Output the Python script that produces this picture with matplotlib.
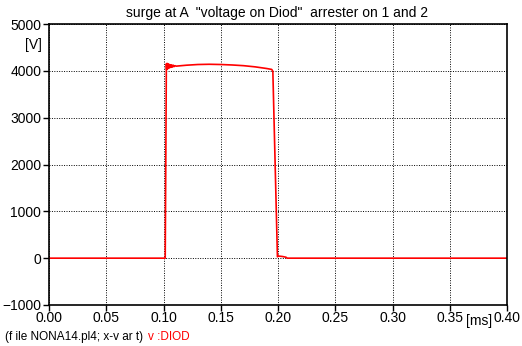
import matplotlib
matplotlib.use("Agg")
import matplotlib.pyplot as plt

plt.rcParams['font.family'] = ['Liberation Sans', 'DejaVu Sans']

# Time in ms and voltage at node DIOD in V
t_ms = [0.0, 0.1015, 0.1025, 0.1028, 0.1031, 0.1034, 0.1037, 0.1040, 0.1044,
        0.1048, 0.1052, 0.1056, 0.1061, 0.1066, 0.1072, 0.1078, 0.1085,
        0.1092, 0.110, 0.111, 0.12, 0.13, 0.14, 0.15, 0.16, 0.17, 0.18,
        0.19, 0.1945, 0.1955, 0.1995, 0.2005, 0.204, 0.207, 0.208, 0.40]
v_diod = [0, 0, 4150, 4030, 4160, 4040, 4150, 4050, 4140, 4060, 4135, 4070,
          4130, 4075, 4125, 4080, 4120, 4090, 4110, 4100, 4120, 4135, 4140,
          4135, 4125, 4110, 4085, 4050, 4030, 3990, 30, 45, 35, 20, 0, 0]

x_ticks = [0.00, 0.05, 0.10, 0.15, 0.20, 0.25, 0.30, 0.35, 0.40]
x_labels = ["0.00", "0.05", "0.10", "0.15", "0.20", "0.25", "0.30", "0.35", "0.40"]
y_ticks = [-1000, 0, 1000, 2000, 3000, 4000, 5000]

title = 'surge at A  "voltage on Diod"  arrester on 1 and 2'

fig = plt.figure(figsize=(5.22, 3.46), dpi=100)
ax = fig.add_axes([49/522, 1 - 305/346, (507 - 49)/522, (305 - 24)/346])

ax.plot(t_ms, v_diod, color="#ff0000", lw=1.2)

ax.set_xlim(0, 0.4)
ax.set_ylim(-1000, 5000)
ax.set_xticks(x_ticks)
ax.set_xticklabels(x_labels)
ax.set_yticks(y_ticks)
ax.tick_params(direction="out", length=4, width=1, labelsize=10,
               colors="black")
ax.tick_params(axis="x", pad=0)
ax.tick_params(axis="y", pad=1.5)
ax.grid(True, color="black", linestyle=(0, (1, 1.5)), linewidth=0.7)
for s in ax.spines.values():
    s.set_linewidth(1.2)
    s.set_color("black")

fig.text(277/522, 1 - 13/346, title, ha="center", va="center", fontsize=10)
fig.text(42/522, 1 - 45/346, "[V]", ha="right", va="center", fontsize=10)
fig.text(466/522, 1 - 321/346, "[ms]", ha="left", va="center", fontsize=10)
fig.text(5/522, 1 - 337/346, "(f ile NONA14.pl4; x-v ar t)", ha="left",
         va="center", fontsize=8.5)
fig.text(148/522, 1 - 337/346, "v :DIOD", ha="left", va="center",
         fontsize=8.5, color="#ff0000")

fig.savefig("out.png", dpi=100)
